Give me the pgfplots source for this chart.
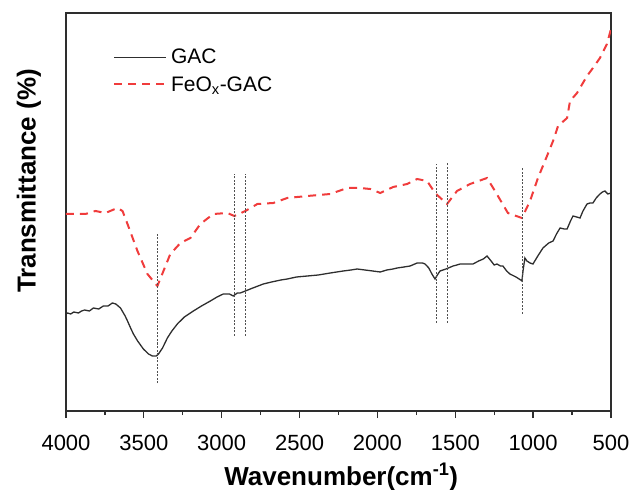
\documentclass[border=0pt]{standalone}
\usepackage{fontspec}
\setmainfont{Liberation Sans}
\usepackage{pgfplots}
\pgfplotsset{compat=1.18}
\definecolor{ftirred}{HTML}{F03C3C}
\definecolor{ftirblack}{HTML}{2E2E2E}
\definecolor{guide}{HTML}{505050}

\begin{document}
\begin{tikzpicture}
\begin{axis}[at={(0pt,0pt)},anchor=south west,
  scale only axis,width=545pt,height=398pt,
  x dir=reverse,xmin=500,xmax=4000,ymin=0,ymax=398,
  xtick={500,1000,...,4000},minor x tick num=1,
  ytick=\empty,xtick pos=bottom,tick align=outside,
  major tick length=7pt,minor tick length=4pt,
  axis line style={ftirblack,line width=1.4pt},
  every tick/.style={ftirblack,line width=1.3pt},
  /pgf/number format/assume math mode=true,
  /pgf/number format/1000 sep={},
  xticklabel style={font=\fontsize{22}{22}\selectfont,anchor=base,yshift=-32pt},
  xlabel={\bfseries Wavenumber(cm\textsuperscript{-1})},
  xlabel style={font=\fontsize{26}{26}\selectfont,at={(axis description cs:0.505,0)},anchor=base,yshift=-74pt},
  ylabel={\bfseries Transmittance (\%)},
  ylabel style={font=\fontsize{26}{26}\selectfont,at={(axis description cs:-0.068,0.578)},anchor=center,rotate=0},
  legend style={at={(axis description cs:0.086,0.912)},anchor=north west,draw=none,fill=none,
    inner sep=0pt,row sep=9pt,font=\fontsize{21}{24}\selectfont,
    nodes={inner sep=1pt,inner xsep=4pt}},
  legend cell align=left,
  legend image code/.code={\draw[#1] (0pt,0pt) -- (52pt,0pt);},
]
\addplot[ftirblack,line width=1.3pt] coordinates {
(4000,97) (3990,98) (3970,97) (3950,99) (3920,98) (3900,100) (3880,101) (3850,100) (3824,103) (3790,102)
(3760,105) (3730,105) (3702,108) (3680,107) (3650,103) (3620,95) (3605,90) (3585,83)
(3567,77) (3540,70) (3503,62) (3470,57) (3445,55) (3420,55) (3406,57) (3380,63)
(3349,73) (3320,80) (3285,87) (3240,94) (3182,100) (3130,105) (3073,110) (3030,114)
(2990,117) (2950,117) (2926,115) (2900,118) (2881,118) (2848,120) (2800,123) (2733,127)
(2680,129) (2620,131) (2579,132) (2520,134) (2450,135) (2380,136) (2303,138) (2220,140)
(2170,141) (2130,142) (2080,141) (2030,140) (1982,139) (1940,141) (1900,142) (1873,143)
(1830,144) (1790,145) (1745,148) (1710,148) (1694,147) (1670,143) (1650,137) (1630,132)
(1615,136) (1598,140) (1560,142) (1514,145) (1490,146) (1469,147) (1430,147) (1386,147)
(1350,150) (1320,152) (1296,155) (1270,150) (1250,146) (1232,147) (1210,145) (1194,145)
(1170,140) (1149,137) (1110,134) (1080,131) (1072,130) (1065,140) (1053,153) (1040,150)
(1020,148) (1001,147) (970,155) (937,163) (900,168) (872,170) (850,177) (827,183)
(800,182) (782,182) (760,190) (744,195) (720,194) (699,193) (680,200) (654,207)
(635,208) (616,208) (595,213) (571,217) (555,219) (539,220) (520,217) (500,218)};
\addlegendentry{GAC}
\addplot[ftirred,line width=2pt,dash pattern=on 8pt off 6pt] coordinates {
(4000,197) (3875,197) (3811,200) (3747,198) (3670,203) (3637,200) (3605,187) (3541,160)
(3477,137) (3413,125) (3374,140) (3330,157) (3265,168) (3201,173) (3137,187) (3054,197)
(2964,198) (2919,195) (2848,200) (2771,207) (2669,208) (2579,213) (2450,215) (2303,217)
(2194,223) (2110,223) (2046,222) (1982,218) (1899,224) (1809,227) (1745,232) (1681,230)
(1630,218) (1553,207) (1489,220) (1405,227) (1296,233) (1245,220) (1162,198) (1072,193)
(1020,210) (969,233) (911,255) (872,270) (840,285) (782,293) (763,310) (718,318)
(654,335) (616,343) (571,353) (526,367) (500,382)};
\addlegendentry{FeO\textsubscript{x}-GAC}
\addplot[guide,line width=0.8pt,dash pattern=on 2pt off 1.5pt,forget plot] coordinates {(3413,28) (3413,177)};
\addplot[guide,line width=0.8pt,dash pattern=on 2pt off 1.5pt,forget plot] coordinates {(2919,75) (2919,237)};
\addplot[guide,line width=0.8pt,dash pattern=on 2pt off 1.5pt,forget plot] coordinates {(2848,75) (2848,237)};
\addplot[guide,line width=0.8pt,dash pattern=on 2pt off 1.5pt,forget plot] coordinates {(1622,88) (1622,247)};
\addplot[guide,line width=0.8pt,dash pattern=on 2pt off 1.5pt,forget plot] coordinates {(1553,88) (1553,248)};
\addplot[guide,line width=0.8pt,dash pattern=on 2pt off 1.5pt,forget plot] coordinates {(1072,97) (1072,243)};
\end{axis}
\pgfresetboundingbox
\path[use as bounding box] (-66pt,-79pt) rectangle (566pt,411pt);
\end{tikzpicture}
\end{document}
